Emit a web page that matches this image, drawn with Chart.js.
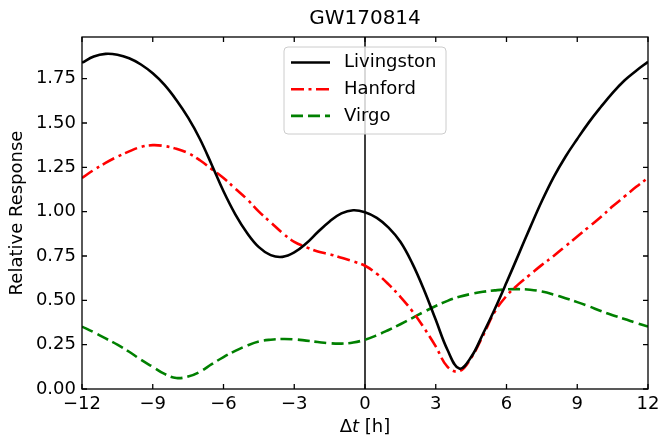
<!DOCTYPE html>
<html><head><meta charset="utf-8">
<script src="https://cdn.jsdelivr.net/npm/chart.js@4.4.1/dist/chart.umd.min.js"></script>
<style>html,body{margin:0;padding:0;background:#fff;}#wrap{width:660px;height:441px;}</style>
</head><body><div id="wrap"><canvas id="c" width="660" height="441"></canvas></div>
<script>
const chartTitle = 'GW170814';
const seriesNames = ['Livingston', 'Hanford', 'Virgo'];
const hours = [-12,-11.5,-11,-10.5,-10,-9.5,-9,-8.5,-8,-7.5,-7,-6.5,-6,-5.5,-5,-4.5,-4,-3.5,-3,-2.5,-2,-1.5,-1,-0.5,0,0.5,1,1.5,2,2.5,3,3.5,4,4.5,5,5.5,6,6.5,7,7.5,8,8.5,9,9.5,10,10.5,11,11.5,12];
const livingston = [1.84,1.875,1.89,1.885,1.865,1.83,1.78,1.715,1.63,1.53,1.41,1.265,1.115,0.985,0.88,0.80,0.755,0.745,0.77,0.82,0.885,0.945,0.99,1.008,0.997,0.965,0.91,0.83,0.71,0.56,0.39,0.22,0.115,0.18,0.31,0.45,0.60,0.755,0.91,1.06,1.195,1.31,1.41,1.505,1.59,1.67,1.74,1.795,1.845];
const hanford = [1.19,1.235,1.275,1.31,1.34,1.365,1.375,1.37,1.355,1.33,1.29,1.24,1.19,1.13,1.07,1.00,0.94,0.88,0.83,0.80,0.775,0.76,0.74,0.72,0.695,0.65,0.59,0.52,0.44,0.345,0.24,0.125,0.10,0.175,0.30,0.435,0.525,0.59,0.645,0.70,0.75,0.805,0.86,0.915,0.97,1.03,1.085,1.14,1.19];
const virgo = [0.352,0.32,0.285,0.25,0.21,0.165,0.125,0.085,0.062,0.07,0.097,0.14,0.18,0.215,0.245,0.268,0.278,0.282,0.28,0.273,0.265,0.258,0.256,0.262,0.278,0.303,0.333,0.365,0.40,0.435,0.468,0.497,0.52,0.536,0.548,0.556,0.562,0.563,0.56,0.55,0.533,0.512,0.49,0.466,0.44,0.416,0.395,0.373,0.352];
const xTicks = [-12,-9,-6,-3,0,3,6,9,12];
const yTicks = [0,0.25,0.5,0.75,1.0,1.25,1.5,1.75];
const markerTime = 0;

const FONT = '"DejaVu Sans", sans-serif';
const toXY = arr => hours.map((h, i) => ({x: h, y: arr[i]}));

const styles = [
  {color: '#000000', dash: []},
  {color: '#ff0000', dash: [13, 4.5, 3, 4.5]},
  {color: '#008000', dash: [12, 5]}
];
const seriesData = [livingston, hanford, virgo];

const decorPlugin = {
  id: 'decor',
  beforeDatasetsDraw(chart) {
    const {ctx, chartArea: a, scales: {x}} = chart;
    const px = x.getPixelForValue(markerTime);
    ctx.save();
    ctx.strokeStyle = '#000'; ctx.lineWidth = 1.5;
    ctx.beginPath(); ctx.moveTo(px, a.top); ctx.lineTo(px, a.bottom); ctx.stroke();
    ctx.restore();
  },
  afterDraw(chart) {
    const {ctx, chartArea: a, scales: {x, y}} = chart;
    ctx.save();
    ctx.strokeStyle = '#000'; ctx.lineWidth = 1.3;
    ctx.strokeRect(a.left, a.top, a.right - a.left, a.bottom - a.top);
    ctx.beginPath();
    const tl = 5;
    xTicks.forEach(v => {
      const p = x.getPixelForValue(v);
      ctx.moveTo(p, a.bottom); ctx.lineTo(p, a.bottom - tl);
      ctx.moveTo(p, a.top); ctx.lineTo(p, a.top + tl);
    });
    yTicks.forEach(v => {
      const p = y.getPixelForValue(v);
      ctx.moveTo(a.left, p); ctx.lineTo(a.left + tl, p);
      ctx.moveTo(a.right, p); ctx.lineTo(a.right - tl, p);
    });
    ctx.stroke();
    const cx = (a.left + a.right) / 2;
    ctx.fillStyle = '#000';
    ctx.font = '20px ' + FONT;
    ctx.textAlign = 'center'; ctx.textBaseline = 'middle';
    ctx.fillText(chartTitle, cx, 19);
    const parts = [['\u0394', 'normal'], ['t', 'italic'], [' [h]', 'normal']];
    let total = 0;
    parts.forEach(p => { ctx.font = p[1] + ' 18px ' + FONT; total += ctx.measureText(p[0]).width; });
    let sx = cx - total / 2;
    ctx.textAlign = 'left';
    parts.forEach(p => { ctx.font = p[1] + ' 18px ' + FONT; ctx.fillText(p[0], sx, 427); sx += ctx.measureText(p[0]).width; });
    const lx = 284, ly = 47, lw = 162, lh = 87, r = 4;
    ctx.beginPath();
    ctx.moveTo(lx + r, ly); ctx.lineTo(lx + lw - r, ly); ctx.quadraticCurveTo(lx + lw, ly, lx + lw, ly + r);
    ctx.lineTo(lx + lw, ly + lh - r); ctx.quadraticCurveTo(lx + lw, ly + lh, lx + lw - r, ly + lh);
    ctx.lineTo(lx + r, ly + lh); ctx.quadraticCurveTo(lx, ly + lh, lx, ly + lh - r);
    ctx.lineTo(lx, ly + r); ctx.quadraticCurveTo(lx, ly, lx + r, ly);
    ctx.closePath();
    ctx.fillStyle = 'rgba(255,255,255,0.8)'; ctx.fill();
    ctx.strokeStyle = '#cccccc'; ctx.lineWidth = 1; ctx.stroke();
    chart.data.datasets.forEach((ds, i) => {
      const ry = 62.5 + i * 26.7;
      ctx.strokeStyle = ds.borderColor; ctx.lineWidth = ds.borderWidth;
      ctx.setLineDash(ds.borderDash || []);
      ctx.beginPath(); ctx.moveTo(291, ry); ctx.lineTo(330, ry); ctx.stroke();
      ctx.setLineDash([]);
      ctx.fillStyle = '#000'; ctx.font = '18px ' + FONT; ctx.textBaseline = 'middle';
      ctx.fillText(ds.label, 344, ry);
    });
    ctx.restore();
  }
};

new Chart(document.getElementById('c'), {
  type: 'line',
  data: {
    datasets: seriesNames.map((n, i) => ({
      label: n,
      data: toXY(seriesData[i]),
      borderColor: styles[i].color,
      borderDash: styles[i].dash,
      borderWidth: 2.6,
      pointRadius: 0,
      fill: false,
      tension: 0.4
    }))
  },
  options: {
    responsive: false, animation: false, devicePixelRatio: 1,
    layout: {padding: {top: 37, right: 12, left: 0, bottom: 0}},
    plugins: {legend: {display: false}, title: {display: false}, tooltip: {enabled: false}},
    scales: {
      x: {
        type: 'linear', min: -12, max: 12,
        afterBuildTicks: s => { s.ticks = xTicks.map(v => ({value: v})); },
        afterFit: s => { s.height = 52; s.paddingLeft = 0; s.paddingRight = 0; },
        grid: {display: false, drawTicks: false},
        border: {display: false},
        ticks: {
          font: {size: 18, family: FONT}, color: '#000', padding: 5, maxRotation: 0, autoSkip: false,
          callback: v => v < 0 ? '\u2212' + Math.abs(v) : String(v)
        }
      },
      y: {
        type: 'linear', min: 0, max: 1.985,
        afterBuildTicks: s => { s.ticks = yTicks.map(v => ({value: v})); },
        afterFit: s => { s.width = 82; s.paddingTop = 0; s.paddingBottom = 0; },
        grid: {display: false, drawTicks: false},
        border: {display: false},
        ticks: {font: {size: 18, family: FONT}, color: '#000', padding: 6, autoSkip: false, callback: v => v.toFixed(2)},
        title: {display: true, text: 'Relative Response', font: {size: 18, family: FONT}, color: '#000', padding: {top: 7, bottom: 0}}
      }
    }
  },
  plugins: [decorPlugin]
});
</script></body></html>
